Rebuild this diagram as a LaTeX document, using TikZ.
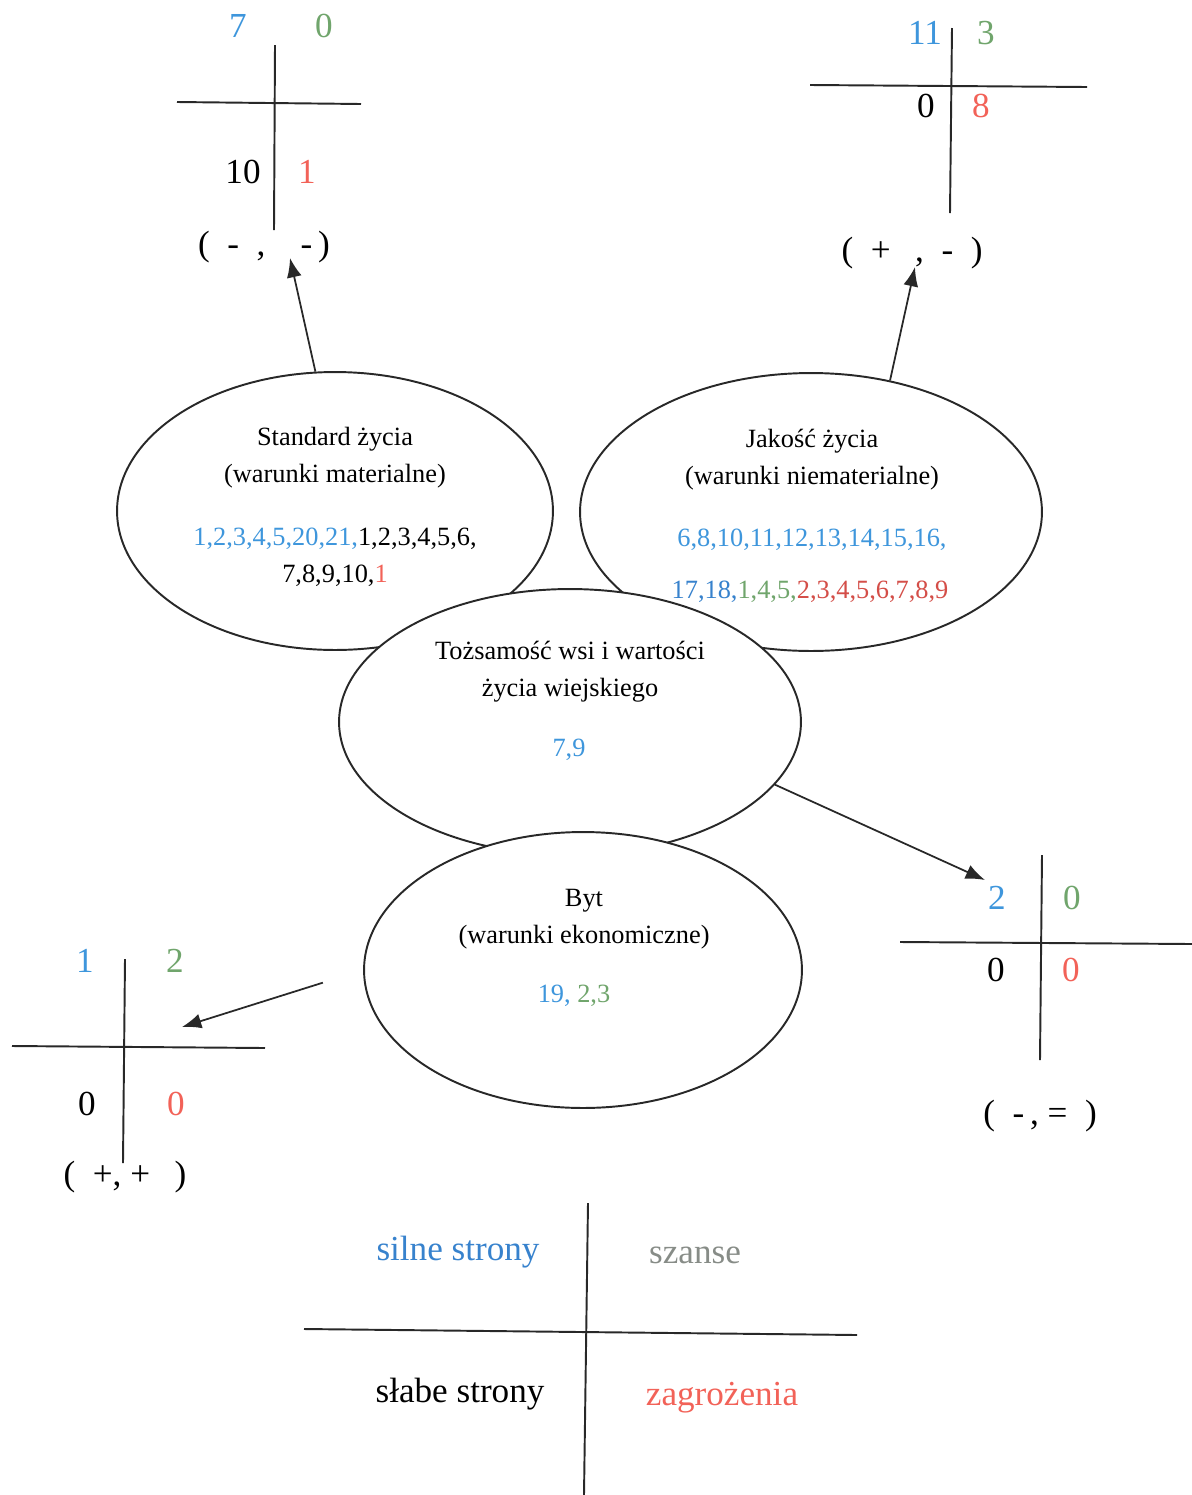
\documentclass[tikz,border=0pt]{standalone}
\usepackage{fontspec}
\setmainfont{Liberation Serif}
\usetikzlibrary{shapes.geometric,arrows.meta}
\definecolor{cblue}{RGB}{62,150,220}
\definecolor{cblueb}{RGB}{55,130,205}
\definecolor{cgreen}{RGB}{112,165,108}
\definecolor{cred}{RGB}{242,98,88}
\definecolor{cdred}{RGB}{212,78,72}
\definecolor{cgray}{RGB}{135,140,135}
\definecolor{cline}{RGB}{40,40,40}
\begin{document}
\begin{tikzpicture}[x=0.02cm,y=-0.02cm,
  ell/.style={ellipse, draw=cline, line width=1.1pt, fill=white, inner sep=0pt},
  etxt/.style={font=\fontsize{15}{21}\selectfont, align=center, inner sep=0pt},
  qnum/.style={font=\fontsize{20}{24}\selectfont, inner sep=0pt},
  sgn/.style={font=\fontsize{20}{24}\selectfont, inner sep=0pt},
  leg/.style={font=\fontsize{20}{24}\selectfont, inner sep=0pt},
  axisline/.style={draw=cline, line width=1.1pt},
  arr/.style={draw=cline, line width=1pt, -{Latex[length=11pt,width=8.5pt]}}]
\useasboundingbox (0,0) rectangle (1192,1495);

% ellipses (drawn in stacking order)
\node[ell, minimum width=8.72cm, minimum height=5.56cm] (std) at (335,511) {};
\node[ell, minimum width=9.24cm, minimum height=5.56cm] (jak) at (811,512) {};
\node[ell, minimum width=9.24cm, minimum height=5.32cm] (toz) at (570,722) {};
\node[ell, minimum width=8.76cm, minimum height=5.52cm] (byt) at (583,970) {};

% ellipse texts
\node[etxt] (std-t) at (335,458) {Standard życia\\(warunki materialne)};
\node[etxt] (std-n) at (335,557) {\textcolor{cblue}{1,2,3,4,5,20,21,}1,2,3,4,5,6,\\7,8,9,10,\textcolor{cred}{1}};
\node[etxt] (jak-t) at (812,460) {Jakość życia\\(warunki niematerialne)};
\node[etxt] (jak-n1) at (812,540) {\textcolor{cblue}{6,8,10,11,12,13,14,15,16,}};
\node[etxt] (jak-n2) at (810,592) {\textcolor{cblueb}{17,18,}\textcolor{cgreen}{1,4,5,}\textcolor{cdred}{2,3,4,5,6,7,8,9}};
\node[etxt] (toz-t) at (570,672) {Tożsamość wsi i wartości\\życia wiejskiego};
\node[etxt] (toz-n) at (569,750) {\textcolor{cblue}{7,9}};
\node[etxt] (byt-t) at (584,919) {Byt\\(warunki ekonomiczne)};
\node[etxt] (byt-n) at (574,996) {\textcolor{cblue}{19,} \textcolor{cgreen}{2,3}};

% top-left cross
\coordinate (tl-v1) at (275,45);  \coordinate (tl-v2) at (274,230);
\coordinate (tl-h1) at (177,102); \coordinate (tl-h2) at (361,104);
\draw[axisline] (tl-v1) -- (tl-v2);
\draw[axisline] (tl-h1) -- (tl-h2);
\node[qnum, text=cblue]  (tl-s) at (238,26) {7};
\node[qnum, text=cgreen] (tl-o) at (324,26) {0};
\node[qnum]              (tl-w) at (243,172) {10};
\node[qnum, text=cred]   (tl-z) at (307,172) {1};
\node[sgn] (tl-lab) at (264,247) {(~~-~~,\hspace{1em}-\,)};
\coordinate (tl-tip) at (290,258);
\draw[arr] (std.98) -- (tl-tip);

% top-right cross
\coordinate (tr-v1) at (952,28);  \coordinate (tr-v2) at (950,213);
\coordinate (tr-h1) at (810,85);  \coordinate (tr-h2) at (1087,87);
\draw[axisline] (tr-v1) -- (tr-v2);
\draw[axisline] (tr-h1) -- (tr-h2);
\node[qnum, text=cblue]  (tr-s) at (925,33) {11};
\node[qnum, text=cgreen] (tr-o) at (986,33) {3};
\node[qnum]              (tr-w) at (926,106) {0};
\node[qnum, text=cred]   (tr-z) at (981,106) {8};
\node[sgn] (tr-lab) at (912,253) {(~~+\hspace{0.7em},~~-~~)};
\coordinate (tr-tip) at (915,267);
\draw[arr] (jak.59) -- (tr-tip);

% right cross
\coordinate (r-v1) at (1042,855); \coordinate (r-v2) at (1040,1060);
\coordinate (r-h1) at (900,942);  \coordinate (r-h2) at (1192,944);
\draw[axisline] (r-v1) -- (r-v2);
\draw[axisline] (r-h1) -- (r-h2);
\node[qnum, text=cblue]  (r-s) at (997,898) {2};
\node[qnum, text=cgreen] (r-o) at (1072,898) {0};
\node[qnum]              (r-w) at (996,970) {0};
\node[qnum, text=cred]   (r-z) at (1071,970) {0};
\node[sgn] (r-lab) at (1040,1116) {(~~-\,,~=~~)};
\coordinate (r-tip) at (985,880);
\draw[arr] (toz.-17) -- (r-tip);

% left cross
\coordinate (l-v1) at (125,959);  \coordinate (l-v2) at (123,1163);
\coordinate (l-h1) at (12,1046);  \coordinate (l-h2) at (265,1048);
\draw[axisline] (l-v1) -- (l-v2);
\draw[axisline] (l-h1) -- (l-h2);
\node[qnum, text=cblue]  (l-s) at (85,961) {1};
\node[qnum, text=cgreen] (l-o) at (175,961) {2};
\node[qnum]              (l-w) at (87,1104) {0};
\node[qnum, text=cred]   (l-z) at (176,1104) {0};
\node[sgn] (l-lab) at (125,1177) {(~~+,~+\hspace{0.7em})};
\coordinate (l-tip) at (182,1027);
\draw[arr, shorten <=24pt] (byt.west) -- (l-tip);

% legend
\coordinate (lg-v1) at (588,1203); \coordinate (lg-v2) at (584,1495);
\coordinate (lg-h1) at (304,1329); \coordinate (lg-h2) at (857,1335);
\draw[axisline] (lg-v1) -- (lg-v2);
\draw[axisline] (lg-h1) -- (lg-h2);
\node[leg, text=cblueb] (lg-s) at (458,1252) {silne strony};
\node[leg, text=cgray]  (lg-o) at (695,1255) {szanse};
\node[leg]              (lg-w) at (460,1394) {słabe strony};
\node[leg, text=cred]   (lg-z) at (722,1398) {zagrożenia};
\end{tikzpicture}
\end{document}
